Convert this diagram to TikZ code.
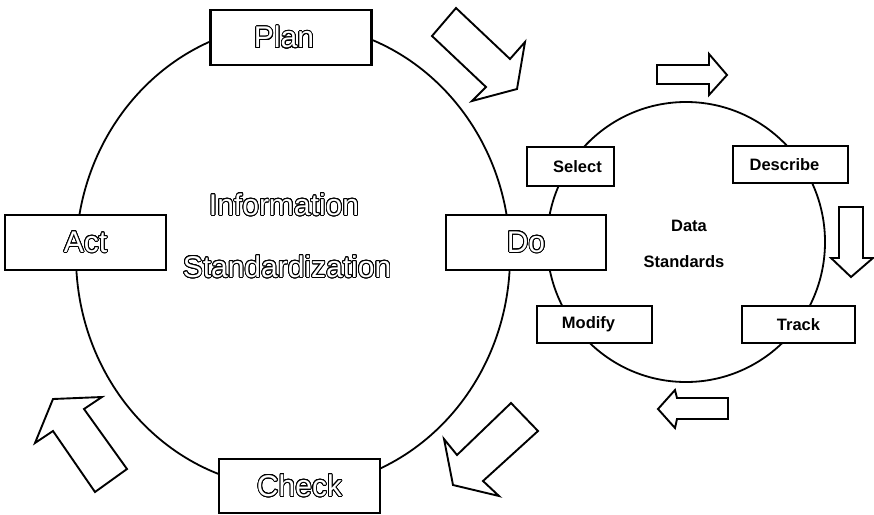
\documentclass[tikz,border=0pt]{standalone}
\usepackage{fontspec}
\setmainfont{Liberation Sans}
\usepackage{contour}
\contourlength{0.85pt}
\contournumber{24}
\newcommand{\outl}[1]{\contour{black}{\textcolor{white}{#1}}}
\begin{document}
\begin{tikzpicture}[x=1pt,y=-1pt,
  ring/.style={draw,line width=1.8pt},
  bigbox/.style={draw,line width=2.2pt,fill=white,inner sep=0pt,minimum width=161pt,minimum height=55pt,font=\fontsize{30}{36}\selectfont},
  smallbox/.style={draw,line width=2.2pt,fill=white,inner sep=0pt,minimum height=37pt,font=\fontsize{16.5}{19}\selectfont\bfseries},
  bigtext/.style={inner sep=0pt,font=\fontsize{30}{36}\selectfont},
  smalltext/.style={inner sep=0pt,font=\fontsize{16.5}{19}\selectfont\bfseries},
  blockarrow/.style={draw,line width=1.9pt,fill=white,line join=miter}]
\useasboundingbox (0,0) rectangle (874,514);
% circles
\draw[ring] (293,256) ellipse [x radius=217pt, y radius=232pt];
\draw[ring] (686,242) ellipse [x radius=139pt, y radius=140pt];
% big boxes
\node[bigbox] (plan) at (291,37.5) {\hspace*{-14pt}\outl{Plan}};
\node[bigbox] (act) at (85.5,242.5) {\outl{Act}};
\node[bigbox,minimum width=160pt] (do) at (526,242.5) {\outl{Do}};
\node[bigbox,minimum height=54pt] (check) at (299.5,486) {\outl{Check}};
% centre texts
\node[bigtext] (info1) at (284,205) {\outl{Information}};
\node[bigtext] (info2) at (287,267) {\outl{Standardization}};
% small boxes
\node[smallbox,minimum width=87pt,minimum height=39pt] (select) at (570.5,166.5) {\hspace*{14pt}Select};
\node[smallbox,minimum width=115pt] (describe) at (790.5,164.5) {\hspace*{-12pt}Describe};
\node[smallbox,minimum width=113pt] (track) at (798.5,324.5) {Track};
\node[smallbox,minimum width=115pt] (modify) at (594.5,324.5) {\hspace*{-12pt}Modify};
\node[smalltext] (data1) at (689,226) {Data};
\node[smalltext] (data2) at (684,262) {Standards};
% block arrows
\draw[blockarrow] (432,36) -- (456,8) -- (510,59) -- (525,42) -- (517,89) -- (472,101) -- (486,87) -- cycle;
\draw[blockarrow] (657,65) -- (709,65) -- (709,54) -- (727,75) -- (709,95) -- (709,84) -- (657,84) -- cycle;
\draw[blockarrow] (839,207) -- (863,207) -- (863,258) -- (873,258) -- (851,277) -- (831,258) -- (839,258) -- cycle;
\draw[blockarrow] (728,398) -- (677,398) -- (675,390) -- (658,409) -- (675,428) -- (677,419) -- (728,419) -- cycle;
\draw[blockarrow] (511,403) -- (538,431) -- (483,481) -- (499,496) -- (453,485) -- (444,439) -- (457,455) -- cycle;
\draw[blockarrow] (53,399) -- (102,397) -- (84,409) -- (127,469) -- (95,492) -- (53,431) -- (35,443) -- cycle;
\end{tikzpicture}
\end{document}
